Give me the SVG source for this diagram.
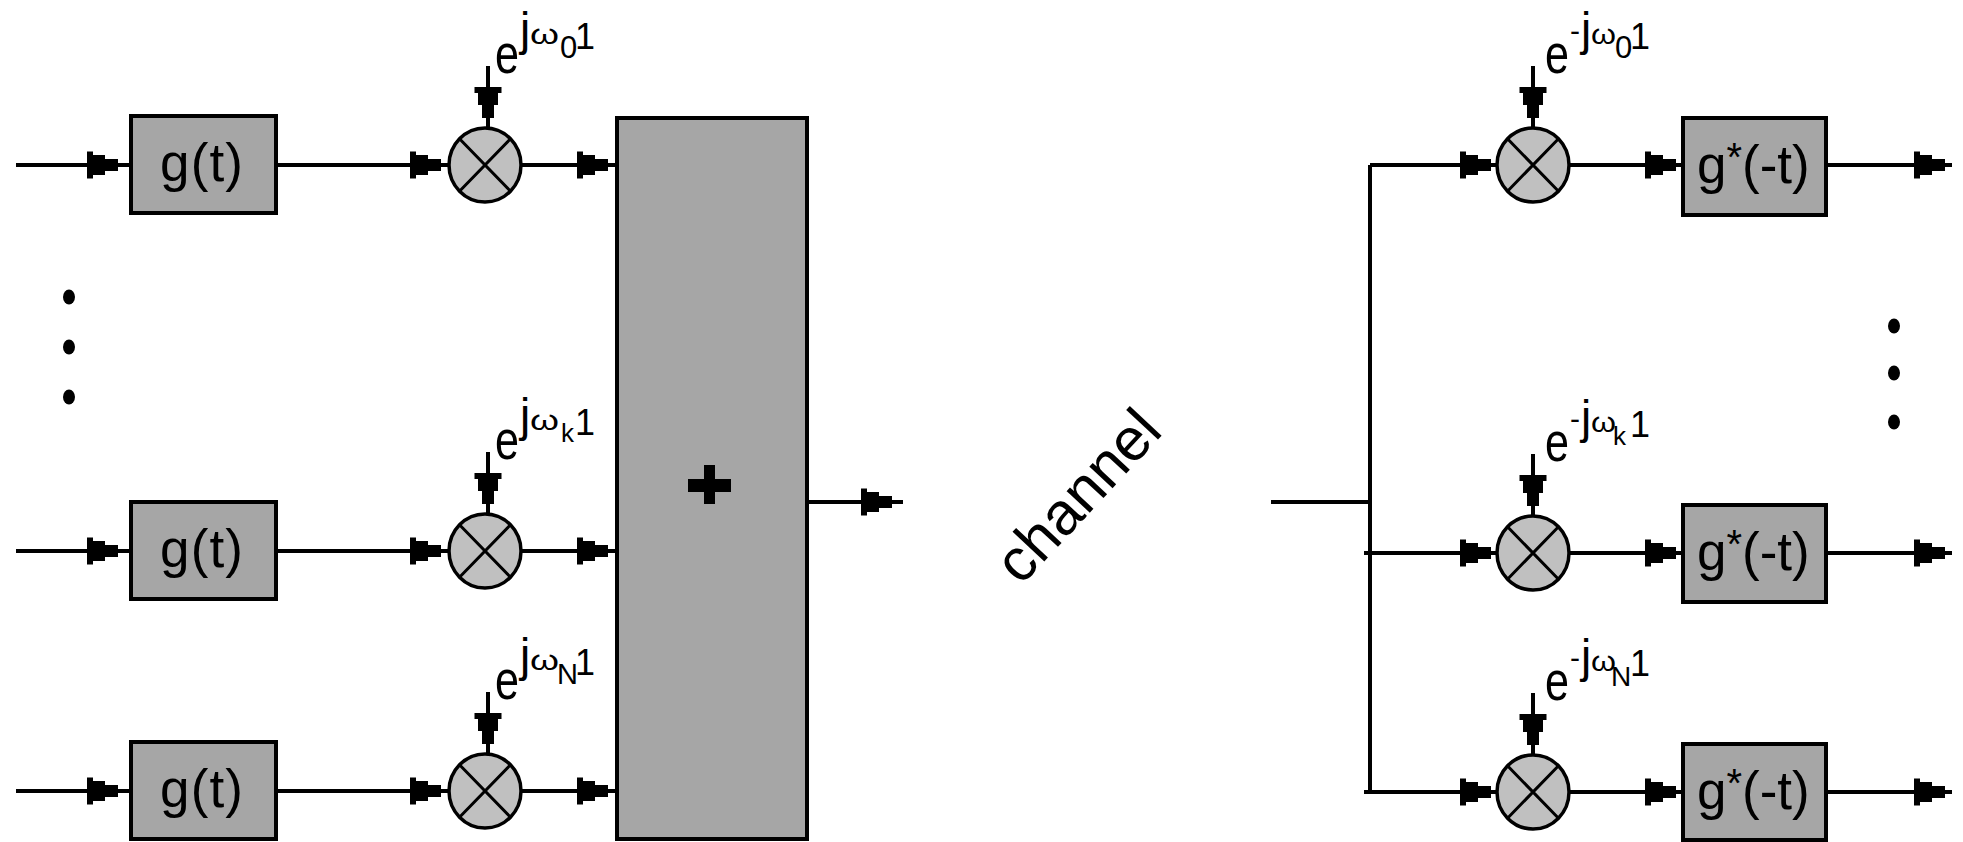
<svg xmlns="http://www.w3.org/2000/svg" width="1963" height="842" viewBox="0 0 1963 842">
<style>
.ln{stroke:#000;stroke-width:4;fill:none}
.box{fill:#a6a6a6;stroke:#000;stroke-width:4}
.mul{fill:#c0c0c0;stroke:#000;stroke-width:3.5}
.xl{stroke:#000;stroke-width:3;fill:none}
text{font-family:"Liberation Sans",Arial,sans-serif;fill:#000}
.bt{font-size:53px}
.e{font-size:56px}
.j{font-size:46px}
.w{font-size:27px}
.s{font-size:31px}
.k{font-size:26px}
.one{font-size:36px}
.dash{font-size:30px}
.st{font-size:40px}
</style>
<defs>
<path id="ah" d="M-31,-13.5H-25V-10H-13V-6H0V6H-13V10H-25V13.5H-31Z"/>
<g id="mx"><ellipse class="mul" rx="36" ry="37"/><path class="xl" d="M-25.5,-26.2L25.5,26.2M25.5,-26.2L-25.5,26.2"/></g>
</defs>
<rect width="1963" height="842" fill="#fff"/>

<g id="connectors">
<path class="ln" d="M16,165H131M276,165H449M521,165H617M488,66V128"/>
<path class="ln" d="M16,551H131M276,551H449M521,551H617M488,452V514"/>
<path class="ln" d="M16,791H131M276,791H449M521,791H617M488,692V754"/>
<path class="ln" d="M807,502H903"/>
<path class="ln" d="M1271,502H1370M1370,165V792"/>
<path class="ln" d="M1370,165H1497M1569,165H1683M1826,165H1952M1533,66V128"/>
<path class="ln" d="M1364,553H1497M1569,553H1683M1826,553H1952M1533,454V516"/>
<path class="ln" d="M1364,792H1497M1569,792H1683M1826,792H1952M1533,693V755"/>
<use href="#ah" x="118" y="165"/><use href="#ah" x="441" y="165"/><use href="#ah" x="608" y="165"/>
<use href="#ah" x="118" y="551"/><use href="#ah" x="441" y="551"/><use href="#ah" x="608" y="551"/>
<use href="#ah" x="118" y="791"/><use href="#ah" x="441" y="791"/><use href="#ah" x="608" y="791"/>
<use href="#ah" transform="translate(488,118) rotate(90)"/>
<use href="#ah" transform="translate(488,504) rotate(90)"/>
<use href="#ah" transform="translate(488,744) rotate(90)"/>
<use href="#ah" x="892" y="502"/>
<use href="#ah" x="1491" y="165"/><use href="#ah" x="1676" y="165"/><use href="#ah" x="1945" y="165"/>
<use href="#ah" x="1491" y="553"/><use href="#ah" x="1676" y="553"/><use href="#ah" x="1945" y="553"/>
<use href="#ah" x="1491" y="792"/><use href="#ah" x="1676" y="792"/><use href="#ah" x="1945" y="792"/>
<use href="#ah" transform="translate(1533,118) rotate(90)"/>
<use href="#ah" transform="translate(1533,506) rotate(90)"/>
<use href="#ah" transform="translate(1533,745) rotate(90)"/>
</g>

<g id="filter-tx-1"><rect class="box" x="131" y="116" width="145" height="97"/><text class="bt" x="160" y="181" textLength="83">g(t)</text></g>
<g id="filter-tx-k"><rect class="box" x="131" y="502" width="145" height="97"/><text class="bt" x="160" y="567" textLength="83">g(t)</text></g>
<g id="filter-tx-N"><rect class="box" x="131" y="742" width="145" height="97"/><text class="bt" x="160" y="807" textLength="83">g(t)</text></g>

<g id="mixer-tx-1" transform="translate(485,165)"><use href="#mx"/>
<text><tspan class="e" x="10" y="-92" textLength="24" lengthAdjust="spacingAndGlyphs">e</tspan><tspan class="j" x="35" y="-120">j</tspan><tspan class="w" x="45" y="-121" textLength="29" lengthAdjust="spacingAndGlyphs">ω</tspan><tspan class="s" x="75" y="-107">0</tspan><tspan class="one" x="90" y="-116">1</tspan></text></g>
<g id="mixer-tx-k" transform="translate(485,551)"><use href="#mx"/>
<text><tspan class="e" x="10" y="-92" textLength="24" lengthAdjust="spacingAndGlyphs">e</tspan><tspan class="j" x="35" y="-120">j</tspan><tspan class="w" x="45" y="-121" textLength="29" lengthAdjust="spacingAndGlyphs">ω</tspan><tspan class="k" x="76" y="-109">k</tspan><tspan class="one" x="90" y="-116">1</tspan></text></g>
<g id="mixer-tx-N" transform="translate(485,791)"><use href="#mx"/>
<text><tspan class="e" x="10" y="-92" textLength="24" lengthAdjust="spacingAndGlyphs">e</tspan><tspan class="j" x="35" y="-120">j</tspan><tspan class="w" x="45" y="-121" textLength="29" lengthAdjust="spacingAndGlyphs">ω</tspan><tspan class="s" x="72" y="-107" style="font-size:29px">N</tspan><tspan class="one" x="90" y="-116">1</tspan></text></g>

<g id="sum"><rect class="box" x="617" y="118" width="190" height="721"/>
<rect x="688" y="479" width="43" height="13" fill="#000"/><rect x="704" y="465" width="11" height="39" fill="#000"/></g>

<g id="dots-tx"><ellipse cx="69" cy="297" rx="6" ry="7.5"/><ellipse cx="69" cy="347" rx="6" ry="7.5"/><ellipse cx="69" cy="397" rx="6" ry="7.5"/></g>

<g id="channel"><text transform="translate(1078,496) rotate(-47)" x="0" y="20" text-anchor="middle" style="font-size:60px">channel</text></g>

<g id="mixer-rx-1" transform="translate(1533,165)"><use href="#mx"/>
<text><tspan class="e" x="12" y="-92" textLength="24" lengthAdjust="spacingAndGlyphs">e</tspan><tspan class="dash" x="37" y="-124">-</tspan><tspan class="j" x="48" y="-120">j</tspan><tspan class="w" x="58" y="-121" textLength="25" lengthAdjust="spacingAndGlyphs">ω</tspan><tspan class="s" x="82" y="-107">0</tspan><tspan class="one" x="97" y="-116">1</tspan></text></g>
<g id="mixer-rx-k" transform="translate(1533,553)"><use href="#mx"/>
<text><tspan class="e" x="12" y="-92" textLength="24" lengthAdjust="spacingAndGlyphs">e</tspan><tspan class="dash" x="37" y="-124">-</tspan><tspan class="j" x="48" y="-120">j</tspan><tspan class="w" x="58" y="-121" textLength="25" lengthAdjust="spacingAndGlyphs">ω</tspan><tspan class="k" x="80" y="-108">k</tspan><tspan class="one" x="97" y="-116">1</tspan></text></g>
<g id="mixer-rx-N" transform="translate(1533,792)"><use href="#mx"/>
<text><tspan class="e" x="12" y="-92" textLength="24" lengthAdjust="spacingAndGlyphs">e</tspan><tspan class="dash" x="37" y="-124">-</tspan><tspan class="j" x="48" y="-120">j</tspan><tspan class="w" x="58" y="-121" textLength="25" lengthAdjust="spacingAndGlyphs">ω</tspan><tspan class="s" x="78" y="-106" style="font-size:28px">N</tspan><tspan class="one" x="97" y="-116">1</tspan></text></g>

<g id="filter-rx-1"><rect class="box" x="1683" y="118" width="143" height="97"/><text class="bt" x="1697" y="183">g<tspan class="st" dy="-12">*</tspan><tspan dy="12">(-t)</tspan></text></g>
<g id="filter-rx-k"><rect class="box" x="1683" y="505" width="143" height="97"/><text class="bt" x="1697" y="570">g<tspan class="st" dy="-12">*</tspan><tspan dy="12">(-t)</tspan></text></g>
<g id="filter-rx-N"><rect class="box" x="1683" y="744" width="143" height="96"/><text class="bt" x="1697" y="809">g<tspan class="st" dy="-12">*</tspan><tspan dy="12">(-t)</tspan></text></g>

<g id="dots-rx"><ellipse cx="1894" cy="326" rx="6" ry="7.5"/><ellipse cx="1894" cy="373" rx="6" ry="7.5"/><ellipse cx="1894" cy="422" rx="6" ry="7.5"/></g>
</svg>
